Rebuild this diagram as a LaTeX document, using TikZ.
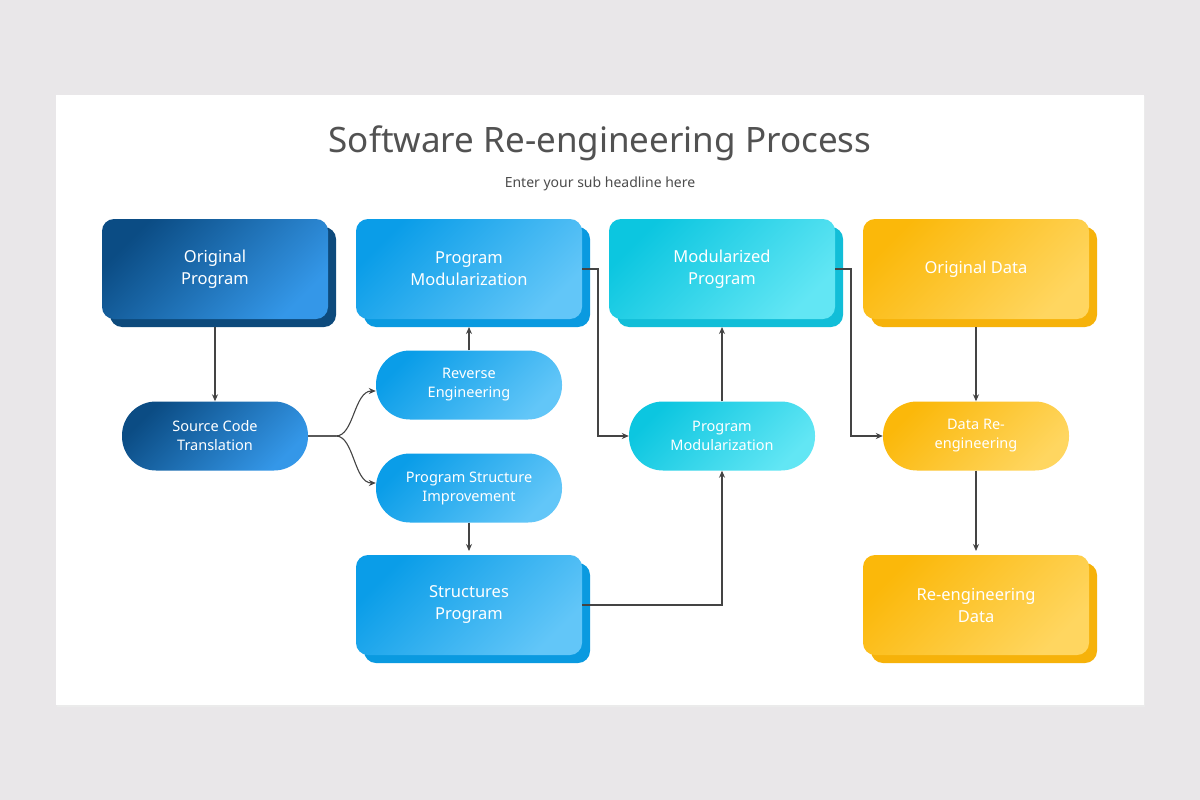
\documentclass[tikz,border=0pt]{standalone}
\usepackage{fontspec}
\setmainfont{Noto Sans}
\usetikzlibrary{arrows.meta,calc}
\definecolor{bg}{HTML}{E9E7E9}
\definecolor{aA}{HTML}{0B4C84}\definecolor{aB}{HTML}{3497E8}\definecolor{aS}{HTML}{0D4A7C}
\definecolor{bA}{HTML}{0A9DE8}\definecolor{bB}{HTML}{62C6F8}\definecolor{bS}{HTML}{0A9AE0}
\definecolor{cA}{HTML}{0CC6E0}\definecolor{cB}{HTML}{62E6F4}\definecolor{cS}{HTML}{12BED8}
\definecolor{dA}{HTML}{FBB80A}\definecolor{dB}{HTML}{FFD660}\definecolor{dS}{HTML}{F6B20A}
\definecolor{ln}{HTML}{444444}
\tikzset{
 box/.style={rounded corners=12pt, minimum width=226pt, minimum height=100pt, text=white, align=center, inner sep=0pt,
   font=\bfseries\fontsize{16.5}{22}\selectfont},
 pill/.style={rounded corners=34pt, minimum width=186pt, minimum height=69pt, text=white, align=center, inner sep=0pt,
   font=\fontsize{14.5}{19}\selectfont},
 grad/.style 2 args={top color=#1, bottom color=#2, shading angle=45},
 arr/.style={draw=ln, line width=1.1pt, -{Stealth[length=7pt,width=6pt]}}
}
\newcommand{\shbox}[5]{% name, cx, cy, colorprefix, text
 \fill[#4S, rounded corners=12pt] (#2-113+8,#3-50+8) rectangle (#2+113+8,#3+50+8);
 \node[box, grad={#4A}{#4B}] (#1) at (#2,#3) {#5};}
\begin{document}
\begin{tikzpicture}[x=1pt,y=-1pt]
\fill[bg] (0,0) rectangle (1200,800);
\fill[black!8] (57,96) rectangle (1145,707);
\fill[white] (56,95) rectangle (1144,705);
\node[text=black!68, font=\fontsize{35}{40}\selectfont] (title) at (600,143) {Software Re-engineering Process};
\node[text=black!70, font=\fontsize{14}{17}\selectfont] (sub) at (600,184) {Enter your sub headline here};
\shbox{op}{215}{269}{a}{Original\\Program}
\shbox{pm}{469}{269}{b}{Program\\Modularization}
\shbox{mp}{722}{269}{c}{Modularized\\Program}
\shbox{od}{976}{269}{d}{Original Data}
\shbox{sp}{469}{605}{b}{Structures\\Program}
\shbox{rd}{976}{605}{d}{Re-engineering\\Data}
\node[pill, grad={aA}{aB}] (sc) at (215,436) {Source Code\\Translation};
\node[pill, grad={bA}{bB}] (re) at (469,385) {Reverse\\Engineering};
\node[pill, grad={bA}{bB}] (pi) at (469,488) {Program Structure\\Improvement};
\node[pill, grad={cA}{cB}] (pmp) at (722,436) {Program\\Modularization};
\node[pill, grad={dA}{dB}] (dr) at (976,436) {Data Re-\\engineering};
\coordinate (opb) at (215,327);
\draw[arr] (opb) -- (sc.north);
\draw[arr] (sc.east) -- (336,436) .. controls (354,436) and (354,391) .. (re.west |- 0,391);
\draw[arr] (sc.east) -- (336,436) .. controls (354,436) and (354,483) .. (pi.west |- 0,483);
\draw[arr] (re.north) -- (469,327);
\draw[arr] (pi.south) -- (469,551);
\draw[arr] (pm.east) -- (598,269) -- (598,436) -- (pmp.west);
\draw[arr] (sp.east) -- (722,605) -- (pmp.south);
\draw[arr] (pmp.north) -- (722,327);
\draw[arr] (mp.east) -- (851,269) -- (851,436) -- (dr.west);
\draw[arr] (976,327) -- (dr.north);
\draw[arr] (dr.south) -- (976,551);
\end{tikzpicture}
\end{document}
